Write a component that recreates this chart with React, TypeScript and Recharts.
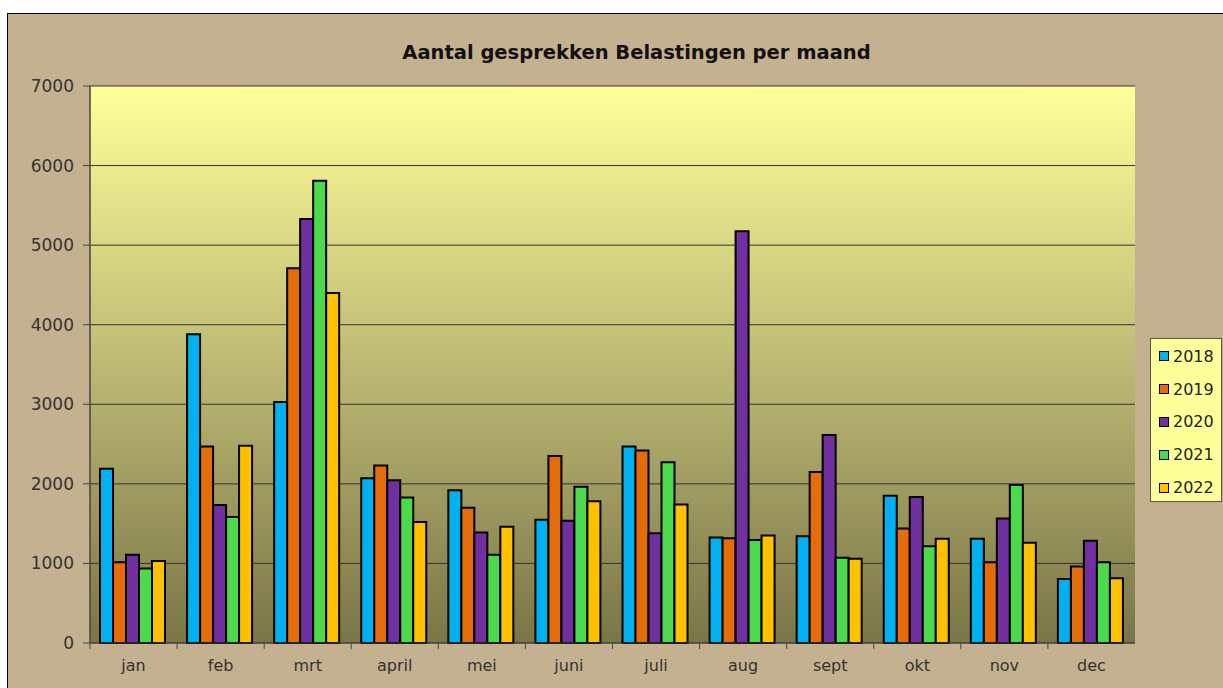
import React from 'react';
import { BarChart, Bar, XAxis, YAxis, CartesianGrid, Legend } from 'recharts';

const months = ['jan', 'feb', 'mrt', 'april', 'mei', 'juni', 'juli', 'aug', 'sept', 'okt', 'nov', 'dec'];
const years = ['2018', '2019', '2020', '2021', '2022'];
const colors = ['#00B0F0', '#E46C0A', '#7030A0', '#4CD94C', '#FFC000'];

const v2018 = [2190, 3880, 3030, 2070, 1920, 1550, 2470, 1325, 1340, 1850, 1310, 805];
const v2019 = [1015, 2470, 4710, 2230, 1700, 2350, 2420, 1315, 2150, 1440, 1015, 960];
const v2020 = [1110, 1735, 5330, 2045, 1390, 1535, 1380, 5175, 2615, 1835, 1565, 1285];
const v2021 = [935, 1585, 5810, 1830, 1110, 1965, 2270, 1295, 1070, 1215, 1985, 1015];
const v2022 = [1030, 2480, 4400, 1520, 1460, 1780, 1740, 1350, 1060, 1310, 1260, 815];
const yTicks = [0, 1000, 2000, 3000, 4000, 5000, 6000, 7000];

const series = [v2018, v2019, v2020, v2021, v2022];
const data = months.map((m, i) => {
  const row: Record<string, string | number> = { month: m };
  years.forEach((y, k) => {
    row[y] = series[k][i];
  });
  return row;
});

const W = 1223;
const H = 688;
const plotLeft = 90;
const plotRight = 1135;
const band = (plotRight - plotLeft) / months.length;

const XTick = (props: any) => {
  const { x, y, payload } = props;
  return (
    <g>
      <line x1={x - band / 2} x2={x - band / 2} y1={y - 8} y2={y - 2} stroke="#444" />
      <text x={x} y={y + 20} textAnchor="middle" fill="#333" fontSize={16} fontFamily="DejaVu Sans">
        {payload.value}
      </text>
    </g>
  );
};

const LegendBox = () => (
  <div
    style={{
      width: 72,
      height: 164,
      background: '#FFFF99',
      border: '1px solid #555',
      boxSizing: 'border-box',
      fontFamily: 'DejaVu Sans',
      fontSize: 16,
      color: '#222',
      paddingTop: 1,
      textAlign: 'left',
    }}
  >
    {years.map((y, k) => (
      <div key={y} style={{ display: 'flex', alignItems: 'center', height: 32.8, paddingLeft: 8 }}>
        <span
          style={{
            display: 'inline-block',
            width: 10,
            height: 10,
            background: colors[k],
            border: '1.5px solid #000',
            boxSizing: 'border-box',
            marginRight: 4,
          }}
        />
        {y}
      </div>
    ))}
  </div>
);

export default function App() {
  return (
    <div style={{ position: 'absolute', left: 0, top: 0, width: W, height: H, background: '#fff', overflow: 'hidden' }}>
      <div
        style={{
          position: 'absolute',
          left: 7,
          top: 13,
          width: W,
          height: H,
          background: '#C4B18F',
          borderTop: '1.5px solid #000',
          borderLeft: '1.5px solid #000',
        }}
      />
      <div
        style={{
          position: 'absolute',
          left: 0,
          top: 41,
          width: 1273,
          textAlign: 'center',
          fontFamily: 'DejaVu Sans',
          fontWeight: 'bold',
          fontSize: 19.5,
          color: '#111',
        }}
      >
        Aantal gesprekken Belastingen per maand
      </div>
      <div style={{ position: 'absolute', left: 0, top: 0 }}>
        <BarChart
          width={W}
          height={H}
          data={data}
          margin={{ top: 86, right: W - plotRight, bottom: 0, left: 0 }}
          barCategoryGap={10}
          barGap={0}
        >
          <defs>
            <linearGradient id="plotGrad" x1="0" y1="0" x2="0" y2="1">
              <stop offset="0%" stopColor="#FFFF99" />
              <stop offset="50%" stopColor="#BDB974" />
              <stop offset="100%" stopColor="#7A7547" />
            </linearGradient>
          </defs>
          <CartesianGrid vertical={false} stroke="#333" fill="url(#plotGrad)" fillOpacity={1} />
          <XAxis
            dataKey="month"
            height={45}
            axisLine={{ stroke: '#444' }}
            tickLine={false}
            tick={<XTick />}
            interval={0}
          />
          <YAxis
            width={plotLeft}
            domain={[0, 7000]}
            ticks={yTicks}
            axisLine={{ stroke: '#444', strokeWidth: 1.5 }}
            tickLine={{ stroke: '#444' }}
            tickSize={7}
            tick={{ fill: '#333', fontSize: 17, fontFamily: 'DejaVu Sans' }}
            tickMargin={9}
          />
          <YAxis yAxisId="r" orientation="right" width={0} tick={false} tickLine={false} axisLine={{ stroke: '#444', strokeWidth: 1.5 }} />
          <Legend
            layout="vertical"
            align="center"
            verticalAlign="middle"
            content={<LegendBox />}
            wrapperStyle={{ position: 'absolute', left: 1150, top: 338, width: 72, height: 164 }}
          />
          {years.map((y, k) => (
            <Bar key={y} dataKey={y} fill={colors[k]} stroke="#000" strokeWidth={2} isAnimationActive={false} />
          ))}
        </BarChart>
      </div>
    </div>
  );
}
